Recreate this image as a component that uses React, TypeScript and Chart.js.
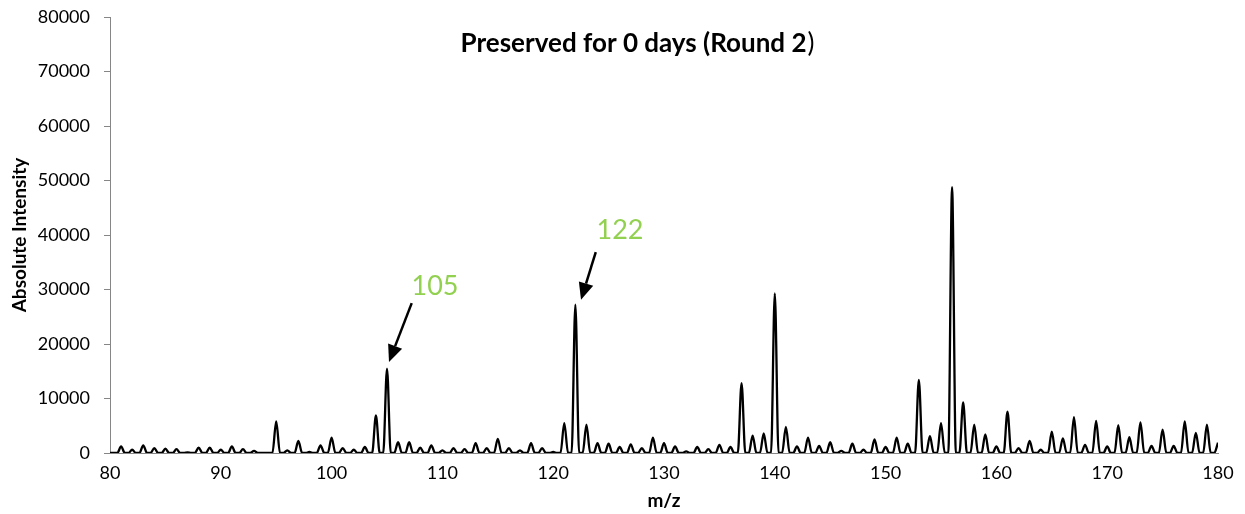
import React, { useEffect, useRef } from "react";
import { Chart, registerables } from "chart.js";

Chart.register(...registerables);

// m/z positions of the peaks (integer masses)
const mzValues: number[] = [
  81, 82, 83, 84, 85, 86, 87, 88, 89, 90,
  91, 92, 93, 94, 95, 96, 97, 98, 99, 100,
  101, 102, 103, 104, 105, 106, 107, 108, 109, 110,
  111, 112, 113, 114, 115, 116, 117, 118, 119, 120,
  121, 122, 123, 124, 125, 126, 127, 128, 129, 130,
  131, 132, 133, 134, 135, 136, 137, 138, 139, 140,
  141, 142, 143, 144, 145, 146, 147, 148, 149, 150,
  151, 152, 153, 154, 155, 156, 157, 158, 159, 160,
  161, 162, 163, 164, 165, 166, 167, 168, 169, 170,
  171, 172, 173, 174, 175, 176, 177, 178, 179, 180,
];

// peak apex intensities (absolute intensity)
const intensities: number[] = [
  1200, 600, 1400, 900, 800, 700, 100, 1000, 1000, 600,
  1200, 700, 400, 0, 5800, 500, 2200, 200, 1400, 2800,
  900, 600, 1100, 6900, 15500, 2000, 2000, 1000, 1400, 500,
  900, 700, 1800, 900, 2600, 900, 500, 1800, 900, 200,
  5500, 27200, 5200, 1800, 1700, 1100, 1600, 900, 2800, 1800,
  1200, 300, 1100, 700, 1500, 1100, 12800, 3200, 3600, 29300,
  4800, 1200, 2800, 1300, 2000, 400, 1700, 600, 2500, 1100,
  2800, 1700, 13400, 3100, 5500, 48800, 9300, 5200, 3400, 1200,
  7600, 900, 2200, 600, 3900, 2700, 6600, 1500, 5900, 1200,
  5100, 2900, 5600, 1300, 4300, 1300, 5800, 3700, 5200, 1900,
];

const xTicks: number[] = [80, 90, 100, 110, 120, 130, 140, 150, 160, 170, 180];
const yTicks: number[] = [0, 10000, 20000, 30000, 40000, 50000, 60000, 70000, 80000];

const titleBold = "Preserved for 0 days (Round 2";
const titleRegular = ")";
const xTitle = "m/z";
const yTitle = "Absolute Intensity";

// annotated peaks: label, label position, arrow tail, arrow tip (data units)
const annLabels: string[] = ["105", "122"];
const annLabelX: number[] = [109.33, 126.03];
const annLabelY: number[] = [30500, 40900];
const annTailX: number[] = [107.23, 123.84];
const annTailY: number[] = [27500, 36850];
const annTipX: number[] = [105.18, 122.51];
const annTipY: number[] = [16700, 28100];

const PEAK_HALF_WIDTH = 0.34;

const FONT = "Lato, 'Open Sans', sans-serif";

export default function App() {
  const ref = useRef<HTMLCanvasElement | null>(null);

  useEffect(() => {
    document.body.style.margin = "0";
    const canvas = ref.current;
    if (!canvas) return;

    const points: { x: number; y: number }[] = [{ x: 80, y: 0 }];
    mzValues.forEach((m, i) => {
      points.push({ x: m - PEAK_HALF_WIDTH, y: 0 });
      points.push({ x: m, y: intensities[i] });
      if (m + PEAK_HALF_WIDTH <= 180) points.push({ x: m + PEAK_HALF_WIDTH, y: 0 });
    });

    const overlay = {
      id: "overlay",
      afterDatasetsDraw(chart: any) {
        const ctx = chart.ctx as CanvasRenderingContext2D;
        const xs = chart.scales.x;
        const ys = chart.scales.y;
        ctx.save();
        // title (closing bracket is not bold in the original)
        ctx.fillStyle = "#000";
        ctx.textBaseline = "middle";
        ctx.textAlign = "left";
        ctx.font = `bold 26px ${FONT}`;
        const wBold = ctx.measureText(titleBold).width;
        ctx.font = `26px ${FONT}`;
        const wReg = ctx.measureText(titleRegular).width;
        const startX = 637 - (wBold + wReg) / 2;
        ctx.font = `bold 26px ${FONT}`;
        ctx.fillText(titleBold, startX, 44);
        ctx.font = `26px ${FONT}`;
        ctx.fillText(titleRegular, startX + wBold + 1, 44);
        // annotations
        for (let i = 0; i < annLabels.length; i++) {
          ctx.fillStyle = "#92D050";
          ctx.font = `27px ${FONT}`;
          ctx.textAlign = "center";
          ctx.textBaseline = "middle";
          ctx.fillText(annLabels[i], xs.getPixelForValue(annLabelX[i]), ys.getPixelForValue(annLabelY[i]));
          const x1 = xs.getPixelForValue(annTailX[i]);
          const y1 = ys.getPixelForValue(annTailY[i]);
          const x2 = xs.getPixelForValue(annTipX[i]);
          const y2 = ys.getPixelForValue(annTipY[i]);
          const ang = Math.atan2(y2 - y1, x2 - x1);
          const headLen = 17;
          const headW = 7.5;
          const bx = x2 - headLen * Math.cos(ang);
          const by = y2 - headLen * Math.sin(ang);
          ctx.strokeStyle = "#000";
          ctx.lineWidth = 2.5;
          ctx.beginPath();
          ctx.moveTo(x1, y1);
          ctx.lineTo(bx, by);
          ctx.stroke();
          ctx.fillStyle = "#000";
          ctx.beginPath();
          ctx.moveTo(x2, y2);
          ctx.lineTo(bx + headW * Math.sin(ang), by - headW * Math.cos(ang));
          ctx.lineTo(bx - headW * Math.sin(ang), by + headW * Math.cos(ang));
          ctx.closePath();
          ctx.fill();
        }
        ctx.restore();
      },
    };

    const chart = new Chart(canvas, {
      type: "scatter",
      data: {
        datasets: [
          {
            data: points,
            showLine: true,
            borderColor: "#000",
            borderWidth: 2.3,
            pointRadius: 0,
            cubicInterpolationMode: "monotone",
            fill: false,
          },
        ],
      },
      options: {
        responsive: false,
        animation: false,
        layout: { padding: { top: 17, right: 27, bottom: 0, left: 0 } },
        plugins: { legend: { display: false }, tooltip: { enabled: false }, title: { display: false } },
        scales: {
          x: {
            type: "linear",
            min: 80,
            max: 180,
            afterBuildTicks: (s: any) => {
              s.ticks = xTicks.map((v) => ({ value: v }));
            },
            afterFit: (s: any) => {
              s.height = 61;
              s.paddingLeft = 0;
              s.paddingRight = 0;
            },
            ticks: {
              color: "#000",
              font: { family: FONT, size: 18 },
              padding: 9,
              maxRotation: 0,
              callback: (v: any) => String(v),
            },
            grid: { drawOnChartArea: false, drawTicks: false },
            border: { color: "#868686", width: 1 },
            title: {
              display: true,
              text: xTitle,
              color: "#000",
              font: { family: FONT, size: 19, weight: "bold" },
              padding: { top: 0, bottom: 2 },
            },
          },
          y: {
            type: "linear",
            min: 0,
            max: 80000,
            afterBuildTicks: (s: any) => {
              s.ticks = yTicks.map((v) => ({ value: v }));
            },
            afterFit: (s: any) => {
              s.width = 110;
              s.paddingTop = 0;
              s.paddingBottom = 0;
            },
            ticks: {
              color: "#000",
              font: { family: FONT, size: 18 },
              padding: 14,
              callback: (v: any) => String(v),
            },
            grid: { drawOnChartArea: false, drawTicks: true, tickLength: 6, color: "#868686" },
            border: { color: "#868686", width: 1 },
            title: {
              display: true,
              text: yTitle,
              color: "#000",
              font: { family: FONT, size: 19, weight: "bold" },
              padding: { top: 8.6, bottom: 0 },
            },
          },
        },
      },
      plugins: [overlay],
    } as any);

    return () => chart.destroy();
  }, []);

  return (
    <div style={{ position: "absolute", left: 0, top: 0, width: 1245, height: 514 }}>
      <canvas ref={ref} width={1245} height={514} style={{ width: 1245, height: 514 }} />
    </div>
  );
}
